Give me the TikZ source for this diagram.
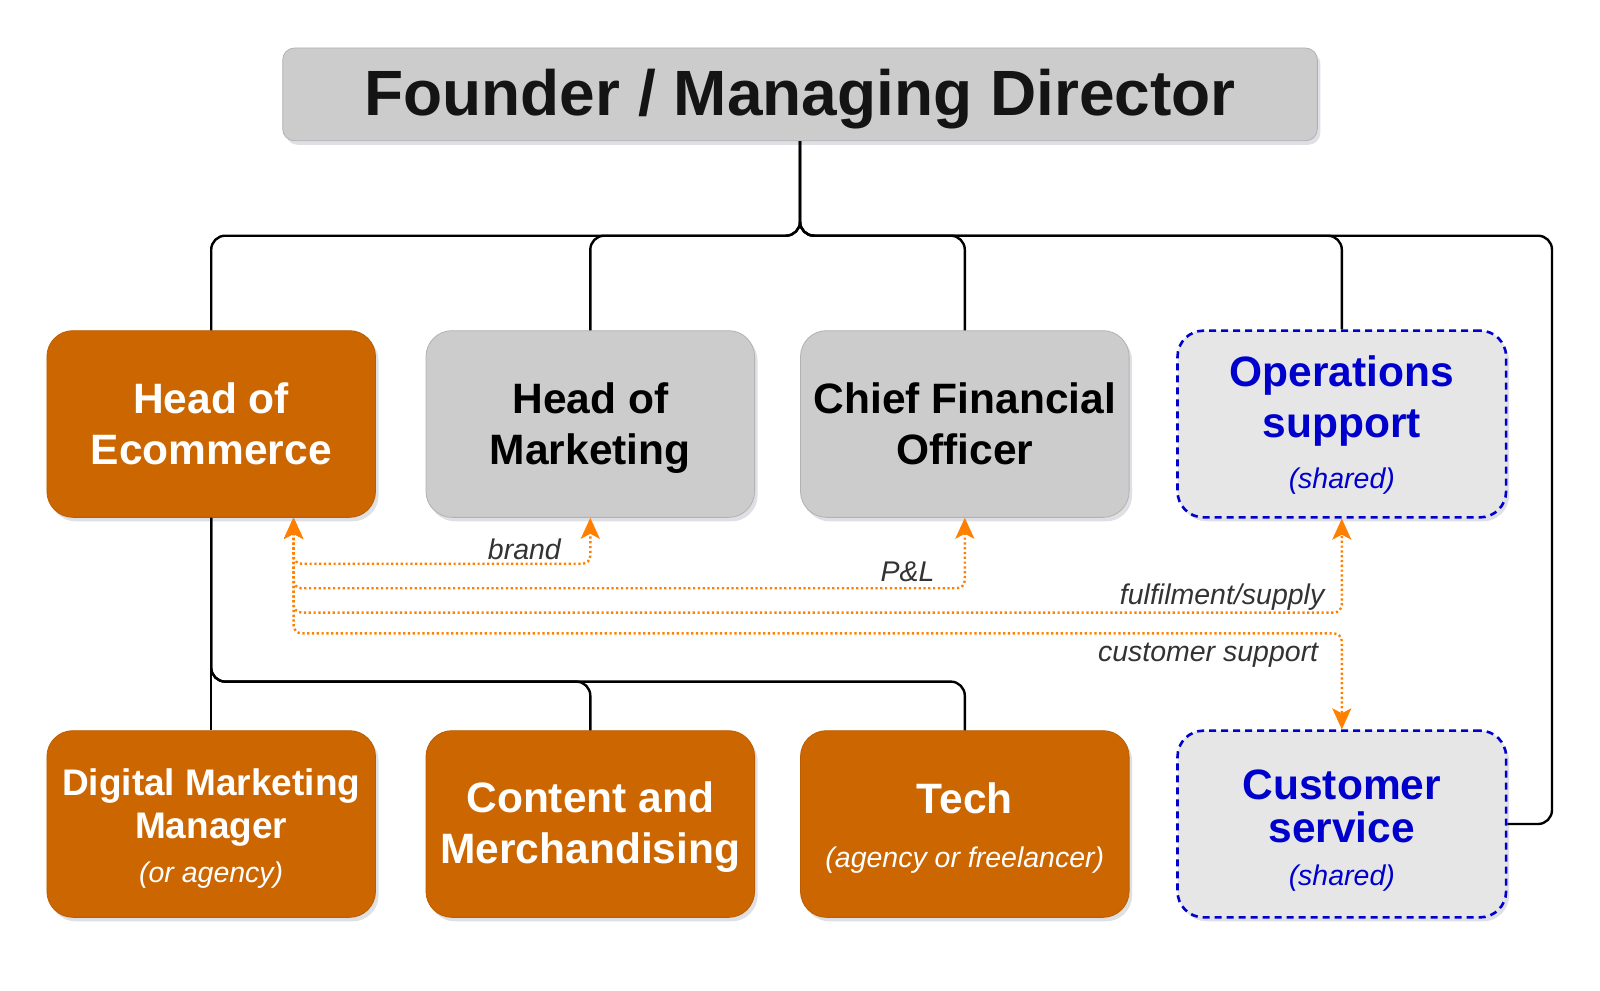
\documentclass[tikz,border=0pt]{standalone}
\usepackage{fontspec}
\setmainfont{Liberation Sans}
\usetikzlibrary{arrows.meta,shadows,calc}
\definecolor{org}{HTML}{CC6600}
\definecolor{gry}{HTML}{CCCCCC}
\definecolor{lgry}{HTML}{E6E6E6}
\definecolor{blu}{HTML}{0000CC}
\definecolor{arr}{HTML}{FF8000}
\definecolor{lblc}{HTML}{333333}
\definecolor{shadowc}{HTML}{B8BCC8}
\newcommand{\dn}[1]{\rule{0pt}{#1pt}}
\newcommand{\paren}[1]{{\normalfont\fontsize{28.5}{32}\selectfont\itshape #1}}
\begin{document}
\begin{tikzpicture}[x=1pt,y=-1pt,
  >={Stealth[length=21pt,width=19pt,inset=5pt]},
  shd/.style={drop shadow={shadow xshift=3pt,shadow yshift=-4pt,fill=shadowc,opacity=0.45}},
  box/.style={shd, rounded corners=26pt, minimum width=328.6pt, minimum height=186.7pt, inner sep=0pt, align=center},
  orgbox/.style={box, fill=org, draw=org!92!black, line width=0.8pt, text=white},
  grybox/.style={box, fill=gry, draw=black!30, line width=0.8pt, text=black},
  sharedbox/.style={box, fill=lgry, draw=blu, line width=2.6pt, dash pattern=on 7pt off 5pt, text=blu},
  conn/.style={draw=black, line width=2.4pt, rounded corners=14pt},
  rel/.style={draw=arr, line width=2.4pt, dash pattern=on 2.2pt off 2.6pt, rounded corners=8pt, <->},
  lbl/.style={text=lblc, font=\fontsize{28.5}{32}\selectfont\itshape, inner sep=0pt},
  big/.style={font=\fontsize{42.5}{51}\selectfont\bfseries},
  small/.style={font=\fontsize{37}{43}\selectfont\bfseries}
]
\useasboundingbox (0,0) rectangle (1600,990);
\fill[white] (0,0) rectangle (1600,990);

% top
\node[grybox, minimum width=1034.7pt, minimum height=92.8pt, rounded corners=12pt,
      font=\fontsize{64}{70}\selectfont\bfseries, text=black!92] (top) at (800,94.4) {\dn{55.5}Founder / Managing Director};

% row 1
\node[orgbox, big] (hoe) at (211.2,424) {Head of\\Ecommerce};
\node[grybox, big] (hom) at (590.3,424) {\dn{39}Head of\\Marketing};
\node[grybox, big] (cfo) at (964.8,424) {Chief Financial\\Officer};
\node[sharedbox, big] (ops) at (1341.8,424) {\dn{32}Operations\\support\\\paren{(shared)}};

% row 2
\node[orgbox, small] (dmm) at (211.2,824) {\dn{35}Digital Marketing\\Manager\\[1pt]\paren{(or agency)}};
\node[orgbox, big] (cm) at (590.3,824) {\dn{37}Content and\\Merchandising};
\node[orgbox, big] (tech) at (964.8,824) {\dn{38}Tech\\[3pt]\paren{(agency or freelancer)}};
\node[sharedbox, big, font=\fontsize{42.5}{43}\selectfont\bfseries] (cs) at (1341.8,824) {\dn{42}Customer\\service\\\paren{(shared)}};

% connectors
\coordinate (bus) at (800,235.7);
\coordinate (busR) at (1552,235.7);
\draw[conn] (top.south) -- (bus) -| (hoe.north);
\draw[conn] (top.south) -- (bus) -| (hom.north);
\draw[conn] (top.south) -- (bus) -| (cfo.north);
\draw[conn] (top.south) -- (bus) -| (ops.north);
\draw[conn] (top.south) -- (bus) -- (busR) |- (cs.east);

\coordinate (bus2) at (211.2,681.6);
\draw[conn] (hoe.south) -- (dmm.north);
\draw[conn] (hoe.south) -- (bus2) -| (cm.north);
\draw[conn] (hoe.south) -- (bus2) -| (tech.north);

% relations
\coordinate (hoeA) at ($(hoe.south west)!0.75!(hoe.south east)$);
\draw[rel] (hoeA) |- ($(hom.south)+(0,46)$) -- (hom.south);
\draw[rel] (hoeA) |- ($(cfo.south)+(0,70.5)$) -- (cfo.south);
\draw[rel] (hoeA) |- ($(ops.south)+(0,93.9)$) -- (ops.south);
\draw[rel] (hoeA) |- ($(cs.north)+(0,-96)$) -- (cs.north);

\node[lbl, anchor=east] (lbrand) at (561,549) {brand};
\node[lbl, anchor=east] (lpl) at (934.7,572) {P\&L};
\node[lbl, anchor=east] (lful) at (1324.5,597) {fulfilment/supply};
\node[lbl, anchor=east] (lcs) at (1318.4,655) {customer support};
\end{tikzpicture}
\end{document}
